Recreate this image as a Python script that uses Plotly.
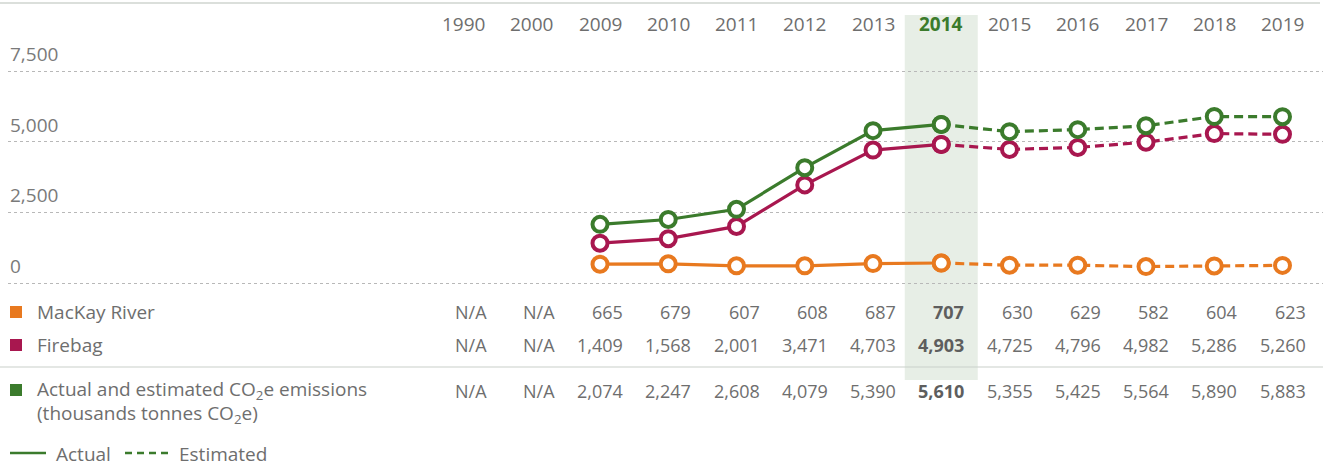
import plotly.graph_objects as go

# ---------------- data ----------------
years = ["1990", "2000", "2009", "2010", "2011", "2012", "2013",
         "2014", "2015", "2016", "2017", "2018", "2019"]
mackay = [None, None, 665, 679, 607, 608, 687, 707, 630, 629, 582, 604, 623]
firebag = [None, None, 1409, 1568, 2001, 3471, 4703, 4903, 4725, 4796, 4982, 5286, 5260]
total = [None, None, 2074, 2247, 2608, 4079, 5390, 5610, 5355, 5425, 5564, 5890, 5883]
y_ticks = [0, 2500, 5000, 7500]
highlight_year = "2014"
last_actual_year = "2014"
row_labels = ["MacKay River", "Firebag"]
total_label_lines = ["Actual and estimated CO<sub>2</sub>e emissions",
                     "(thousands tonnes CO<sub>2</sub>e)"]
legend_labels = ["Actual", "Estimated"]

# ---------------- style ----------------
W, H = 1323, 466
ML = 8
ORANGE = "#e8791f"
CRIMSON = "#a8174f"
GREEN = "#3b7b2c"
TEXT = "#6e6e6e"
FONT = "Open Sans"
FS = 19


def px_y(p):
    return 1 - p / H


def px_x(p):
    return (p - ML) / (W - ML)


# x mapping: first category center at 463.5px, 68.25px per category
step = 68.25
xmin = -(463.5 - ML) / step
xmax = xmin + (W - ML) / step
# y mapping: 0 at 283px, 7500 at 71px
ppu = (283 - 71) / 7500
ymin = -(H - 283) / ppu
ymax = 283 / ppu

fig = go.Figure()

split = years.index(last_actual_year)
series = [(mackay, ORANGE), (firebag, CRIMSON), (total, GREEN)]
for vals, col in series:
    for part, dash in (("a", "solid"), ("e", "9px,5px")):
        if part == "a":
            idx = [i for i in range(0, split + 1) if vals[i] is not None]
        else:
            idx = [i for i in range(split, len(years)) if vals[i] is not None]
        fig.add_trace(go.Scatter(
            x=[years[i] for i in idx], y=[vals[i] for i in idx],
            mode="lines+markers",
            line=dict(color=col, width=3.2, dash=dash),
            marker=dict(symbol="circle", size=15, color="white",
                        line=dict(color=col, width=4)),
            showlegend=False, hoverinfo="skip"))

annotations = []
shapes = []

# highlight band
hi = years.index(highlight_year)
shapes.append(dict(type="rect", xref="x", yref="paper",
                   x0=hi - 0.535, x1=hi + 0.535, y0=px_y(380), y1=px_y(15),
                   fillcolor="#e7eee6", line=dict(width=0), layer="below"))

# top rule and separator
shapes.append(dict(type="line", xref="paper", yref="paper",
                   x0=px_x(0), x1=px_x(1320), y0=px_y(3), y1=px_y(3),
                   line=dict(color="#cfd4cf", width=1.5)))
shapes.append(dict(type="line", xref="paper", yref="paper",
                   x0=px_x(0), x1=px_x(1323), y0=px_y(367), y1=px_y(367),
                   line=dict(color="#c9cfc9", width=1.2)))

# y tick labels above gridlines
for t in y_ticks:
    annotations.append(dict(xref="paper", yref="y", x=px_x(8), y=t,
                            xanchor="left", yanchor="bottom", yshift=2,
                            text=f"{t:,}", showarrow=False,
                            font=dict(family=FONT, size=FS, color="#7a7a7a")))

# year header (category index positions on the x axis)
for i, y in enumerate(years):
    bold = y == highlight_year
    annotations.append(dict(xref="x", yref="paper", x=i, y=px_y(24),
                            xanchor="center", yanchor="middle",
                            text=f"<b>{y}</b>" if bold else y, showarrow=False,
                            font=dict(family=FONT, size=FS,
                                      color=GREEN if bold else TEXT)))

# table rows
rows = [(mackay, 312), (firebag, 345), (total, 391)]
for vals, rp in rows:
    for i, (y, v) in enumerate(zip(years, vals)):
        s = "N/A" if v is None else f"{v:,}"
        bold = y == highlight_year
        annotations.append(dict(xref="x", yref="paper", x=i, y=px_y(rp),
                                xanchor="right", yanchor="middle", xshift=25,
                                text=f"<b>{s}</b>" if bold else s,
                                showarrow=False,
                                font=dict(family=FONT, size=FS - 1,
                                          color="#5e5e5e" if bold else TEXT)))

# row labels with colour squares
label_rows = [(row_labels[0], 312, ORANGE), (row_labels[1], 345, CRIMSON),
              (total_label_lines[0], 390, GREEN)]
for lab, rp, col in label_rows:
    shapes.append(dict(type="rect", xref="paper", yref="paper",
                       x0=px_x(10), x1=px_x(22), y0=px_y(rp + 6), y1=px_y(rp - 6),
                       fillcolor=col, line=dict(width=0)))
    annotations.append(dict(xref="paper", yref="paper", x=px_x(35), y=px_y(rp),
                            xanchor="left", yanchor="middle", text=lab,
                            showarrow=False,
                            font=dict(family=FONT, size=FS, color=TEXT)))
annotations.append(dict(xref="paper", yref="paper", x=px_x(35), y=px_y(414),
                        xanchor="left", yanchor="middle", text=total_label_lines[1],
                        showarrow=False, font=dict(family=FONT, size=FS, color=TEXT)))

# line-style legend
shapes.append(dict(type="line", xref="paper", yref="paper",
                   x0=px_x(10), x1=px_x(46), y0=px_y(453), y1=px_y(453),
                   line=dict(color=GREEN, width=2.5)))
shapes.append(dict(type="line", xref="paper", yref="paper",
                   x0=px_x(125), x1=px_x(172), y0=px_y(453), y1=px_y(453),
                   line=dict(color=GREEN, width=2.5, dash="7px,5px")))
annotations.append(dict(xref="paper", yref="paper", x=px_x(54), y=px_y(454),
                        xanchor="left", yanchor="middle", text=legend_labels[0],
                        showarrow=False, font=dict(family=FONT, size=FS, color=TEXT)))
annotations.append(dict(xref="paper", yref="paper", x=px_x(177), y=px_y(454),
                        xanchor="left", yanchor="middle", text=legend_labels[1],
                        showarrow=False, font=dict(family=FONT, size=FS, color=TEXT)))

fig.update_layout(
    width=W, height=H,
    margin=dict(l=ML, r=0, t=0, b=0),
    paper_bgcolor="white", plot_bgcolor="white",
    font=dict(family=FONT, size=FS, color=TEXT),
    xaxis=dict(type="category", categoryorder="array", categoryarray=years,
               range=[xmin, xmax], showgrid=False, showticklabels=False,
               zeroline=False, showline=False, fixedrange=True),
    yaxis=dict(range=[ymin, ymax], tickvals=y_ticks, showticklabels=False,
               showgrid=True, gridcolor="#b8b8b8", gridwidth=1, griddash="dot",
               zeroline=False, showline=False, fixedrange=True),
    annotations=annotations, shapes=shapes,
    showlegend=False,
)

fig.write_html("out.html")
